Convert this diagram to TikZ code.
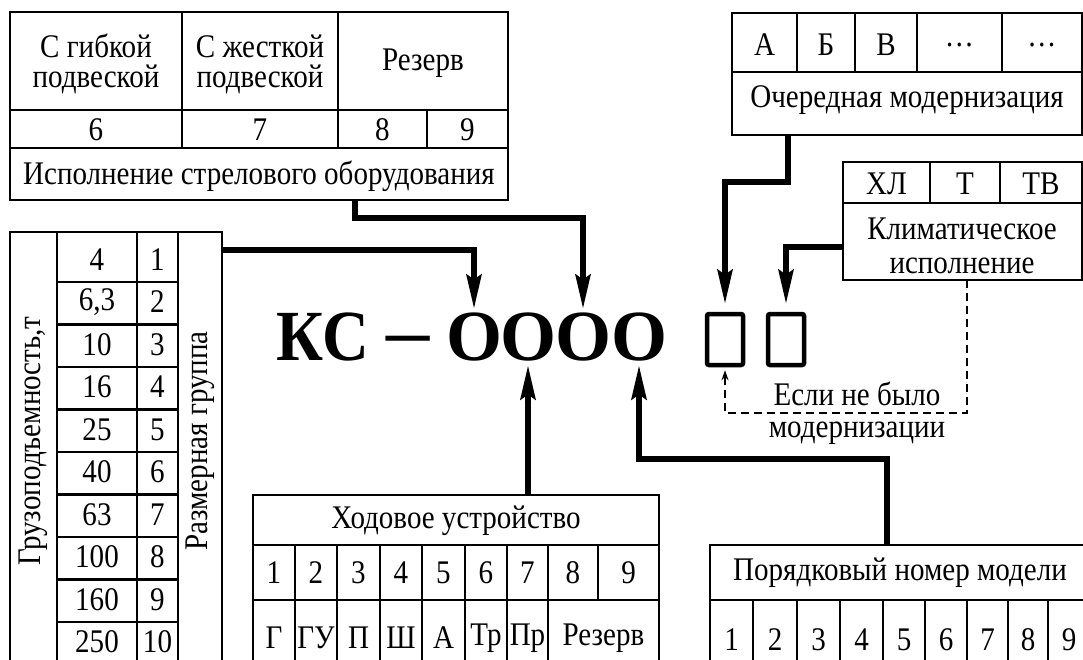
\documentclass[tikz,border=0pt]{standalone}
\usepackage{fontspec}
\setmainfont{Liberation Serif}[FakeStretch=0.88]
\newfontfamily\indexfont{Liberation Serif}
\usepackage{graphicx}
\usetikzlibrary{arrows.meta, calc}

\tikzset{
  tbl/.style={line width=2.6pt, line cap=rect},
  txt/.style={inner sep=0pt, font=\fontsize{33}{30}\selectfont, align=center},
  big/.style={inner sep=4pt, font=\fontsize{72}{72}\indexfont\bfseries},
  conn/.style={line width=5.5pt, -{Stealth[length=34pt, width=15pt, inset=5pt]}},
  slot/.style={draw, line width=4.5pt, rounded corners=2pt, minimum width=36pt, minimum height=51pt, inner sep=0pt},
  hint/.style={line width=2.2pt, dash pattern=on 8pt off 5pt, -{Stealth[length=10pt, width=7pt]}}
}

\begin{document}
\begin{tikzpicture}[x=1pt, y=-1pt]
  \useasboundingbox (0,0) rectangle (1083,659);
  \clip (0,0) rectangle (1083,659);

  % Boom equipment table
  \draw[tbl] (10,12) rectangle (508,200);
  \draw[tbl] (10,110) -- (508,110) (10,148) -- (508,148);
  \draw[tbl] (182,12) -- (182,148) (338,12) -- (338,148) (427,110) -- (427,148);
  \node[txt] (gibk) at (96,64) {С гибкой\\подвеской};
  \node[txt] (zhestk) at (260,64) {С жесткой\\подвеской};
  \node[txt] (rezerv1) at (423,63) {Резерв};
  \node[txt] (s6) at (96,130) {6};
  \node[txt] (s7) at (260,130) {7};
  \node[txt] (s8) at (382.5,130) {8};
  \node[txt] (s9) at (467.5,130) {9};
  \node[txt] (strela) at (259,176) {Исполнение стрелового оборудования};

  % Modernization table
  \draw[tbl] (732,13) rectangle (1082,135);
  \draw[tbl] (732,72) -- (1082,72);
  \foreach \x in {797,855,917,1002} \draw[tbl] (\x,13) -- (\x,72);
  \foreach \lbl/\x [count=\i] in {А/764.5, Б/826, В/886, …/959.5, …/1042}
    \node[txt] (mod\i) at (\x,45) {\lbl};
  \node[txt] (modern) at (907,100) {Очередная модернизация};

  % Climate table
  \draw[tbl] (843,162) rectangle (1082,280);
  \draw[tbl] (843,203) -- (1082,203) (930,162) -- (930,203) (1000,162) -- (1000,203);
  \node[txt] (hl) at (886.5,184) {ХЛ};
  \node[txt] (tt) at (965,184) {Т};
  \node[txt] (tv) at (1041,184) {ТВ};
  \node[txt, font=\fontsize{33}{34}\selectfont] (klimat) at (962,246) {Климатическое\\исполнение};

  % Capacity / size group table
  \draw[tbl] (10,232) -- (222,232);
  \foreach \x in {10,57,137,178,222} \draw[tbl] (\x,232) -- (\x,680);
  \foreach \k in {0,...,9} \draw[tbl] (57,{282+42.5*\k}) -- (178,{282+42.5*\k});
  \foreach \v [count=\i] in {4,{6,3},10,16,25,40,63,100,160,250} {
    \node[txt] (gp\i) at (97,{217+42.5*\i}) {\v};
    \node[txt] (gr\i) at (157.5,{217+42.5*\i}) {\i};
  }
  \node[txt, rotate=90] (gruz) at (33,441) {Грузоподъемность,т};
  \node[txt, rotate=90] (razm) at (200,441) {Размерная группа};

  % Undercarriage table
  \draw[tbl] (253,680) -- (253,495) -- (659,495) -- (659,680);
  \draw[tbl] (253,545) -- (659,545) (253,600) -- (659,600);
  \foreach \x in {295,337,380,422,465,507,548} \draw[tbl] (\x,545) -- (\x,680);
  \draw[tbl] (598,545) -- (598,600);
  \node[txt] (hod) at (456,521) {Ходовое устройство};
  \foreach \x [count=\i] in {274,316,358.5,401,443.5,486,527.5,573,628.5}
    \node[txt] (hn\i) at (\x,573) {\i};
  \foreach \lbl/\x [count=\i] in {Г/274, ГУ/316, П/358.5, Ш/401, А/443.5, Тр/486, Пр/527.5}
    \node[txt] (hb\i) at (\x,638) {\lbl};
  \node[txt] (rezerv2) at (603.5,638) {Резерв};

  % Model number table
  \draw[tbl] (710,680) -- (710,545) -- (1090,545);
  \draw[tbl] (710,600) -- (1090,600);
  \foreach \x in {753,797,840,883,925,967,1008,1048} \draw[tbl] (\x,600) -- (\x,680);
  \node[txt] (poryad) at (900,573) {Порядковый номер модели};
  \foreach \x [count=\i] in {731.5,775,818.5,861.5,904,946,987.5,1028,1069}
    \node[txt] (pn\i) at (\x,640) {\i};

  % Index
  \node[big] (kc) at (323,337) {\scalebox{0.9}[1]{КС}};
  \node[big, anchor=base] (dash) at (408,355) {\scalebox{1.2}[1]{–}};
  \foreach \x [count=\i] in {474,528,583,639}
    \node[big] (o\i) at (\x,337) {O};
  \node[slot] (m1) at (725,339.5) {};
  \node[slot] (m2) at (786,339.5) {};
  \node[txt] (esli) at (857,394) {Если не было};
  \node[txt] (nomod) at (857,433) {модернизации};

  % Connectors
  \coordinate (gruzOut) at (222,250);
  \coordinate (strelaOut) at (355,200);
  \coordinate (modOut) at (788,135);
  \coordinate (klimOut) at (843,247);
  \coordinate (hodOut) at (528,495);
  \coordinate (porOut) at (887,545);
  \coordinate (klimDash) at (967,280);
  \draw[conn] (gruzOut) -| (o1.north);
  \draw[conn] (strelaOut) -- ++(0,18) -| (o3.north);
  \draw[conn, shorten >=8pt] (modOut) -- ++(0,47) -| (m1.north);
  \draw[conn, shorten >=8pt] (klimOut) -| (m2.north);
  \draw[conn] (hodOut) -- (o2.south);
  \draw[conn] (porOut) -- ++(0,-86) -| (o4.south);
  \draw[hint, shorten >=3pt] (klimDash) -- ++(0,133) -| (m1.south);
\end{tikzpicture}
\end{document}
